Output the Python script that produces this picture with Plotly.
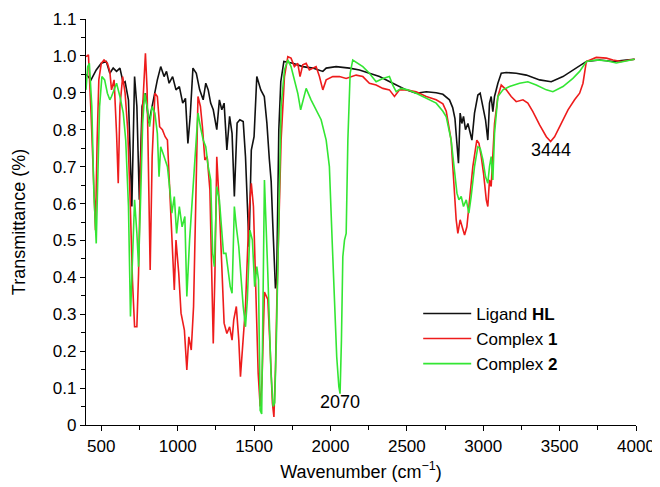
import plotly.graph_objects as go

# Ligand HL
hl_wn = [400, 433, 467, 500, 533, 556, 578, 600, 622, 644, 656, 678, 700, 718, 733, 749, 767, 789, 811, 844,
         867, 889, 911, 927, 944, 967, 989, 1011, 1033, 1051, 1067, 1082, 1100, 1122, 1144, 1167, 1184, 1200,
         1216, 1233, 1256, 1273, 1289, 1304, 1322, 1340, 1356, 1371, 1389, 1407, 1429, 1444, 1467, 1482, 1500,
         1518, 1544, 1567, 1584, 1600, 1612, 1622, 1632, 1640, 1648, 1655, 1662, 1675, 1695, 1753, 1819, 1884,
         1950, 1972, 2037, 2124, 2190, 2255, 2321, 2408, 2496, 2561, 2627, 2692, 2736, 2779, 2800, 2815, 2828,
         2838, 2849, 2860, 2871, 2884, 2900, 2915, 2926, 2943, 2965, 2980, 2998, 3015, 3030, 3041, 3052, 3063,
         3074, 3096, 3118, 3151, 3216, 3282, 3369, 3445, 3522, 3587, 3675, 3762, 3849, 3936, 3991]
hl_t = [0.95, 0.935, 0.962, 0.98, 0.985, 0.953, 0.967, 0.958, 0.967, 0.926, 0.93, 0.88, 0.592, 0.944, 0.863,
        0.61, 0.863, 0.899, 0.818, 0.89, 0.935, 0.971, 0.944, 0.958, 0.926, 0.944, 0.908, 0.917, 0.872, 0.885,
        0.763, 0.836, 0.967, 0.953, 0.908, 0.881, 0.926, 0.908, 0.872, 0.854, 0.8, 0.881, 0.854, 0.872, 0.745,
        0.836, 0.79, 0.619, 0.818, 0.827, 0.822, 0.727, 0.483, 0.745, 0.781, 0.944, 0.908, 0.89, 0.818, 0.72,
        0.66, 0.55, 0.42, 0.37, 0.39, 0.55, 0.8, 0.93, 0.985, 0.98, 0.971, 0.967, 0.958, 0.967, 0.971, 0.967,
        0.962, 0.953, 0.944, 0.926, 0.908, 0.899, 0.903, 0.9, 0.896, 0.881, 0.86, 0.83, 0.754, 0.709, 0.845,
        0.817, 0.836, 0.8, 0.817, 0.79, 0.772, 0.845, 0.894, 0.899, 0.863, 0.827, 0.772, 0.872, 0.89, 0.849,
        0.89, 0.926, 0.953, 0.955, 0.953, 0.948, 0.935, 0.93, 0.944, 0.962, 0.985, 0.989, 0.985, 0.989, 0.991]

# Complex 1
c1_wn = [400, 416, 433, 451, 462, 473, 484, 500, 518, 540, 556, 567, 584, 600, 611, 622, 640, 656, 673, 689,
         704, 718, 733, 744, 756, 771, 789, 800, 811, 820, 833, 851, 867, 882, 900, 918, 933, 949, 962, 978,
         989, 1007, 1022, 1044, 1060, 1073, 1089, 1104, 1118, 1133, 1149, 1162, 1178, 1193, 1211, 1222, 1233,
         1244, 1256, 1273, 1289, 1304, 1322, 1340, 1356, 1367, 1384, 1400, 1411, 1429, 1444, 1467, 1482, 1496,
         1511, 1527, 1540, 1552, 1568, 1590, 1606, 1620, 1630, 1640, 1650, 1662, 1677, 1699, 1721, 1742, 1764,
         1786, 1801, 1819, 1841, 1862, 1884, 1906, 1928, 1950, 1972, 1993, 2015, 2059, 2103, 2168, 2212, 2255,
         2299, 2343, 2386, 2419, 2452, 2496, 2561, 2627, 2692, 2736, 2758, 2790, 2812, 2823, 2834, 2849, 2862,
         2878, 2893, 2910, 2932, 2958, 2972, 2987, 3002, 3020, 3030, 3041, 3052, 3059, 3074, 3096, 3118, 3151,
         3183, 3216, 3260, 3292, 3325, 3369, 3413, 3441, 3467, 3511, 3555, 3598, 3631, 3653, 3675, 3740, 3806,
         3849, 3904, 3958, 3991]
c1_t = [0.998, 1.003, 0.845, 0.637, 0.528, 0.772, 0.935, 0.98, 0.989, 0.98, 0.958, 0.908, 0.935, 0.79, 0.655,
        0.863, 0.944, 0.899, 0.8, 0.61, 0.393, 0.266, 0.266, 0.411, 0.682, 0.863, 1.007, 0.908, 0.628, 0.42,
        0.727, 0.899, 0.89, 0.808, 0.8, 0.781, 0.772, 0.637, 0.501, 0.366, 0.501, 0.411, 0.303, 0.257, 0.149,
        0.239, 0.203, 0.321, 0.592, 0.89, 0.863, 0.808, 0.718, 0.727, 0.637, 0.393, 0.221, 0.411, 0.727, 0.592,
        0.411, 0.276, 0.248, 0.266, 0.23, 0.285, 0.321, 0.23, 0.131, 0.23, 0.321, 0.574, 0.655, 0.592, 0.339,
        0.14, 0.05, 0.12, 0.36, 0.34, 0.2, 0.06, 0.022, 0.15, 0.35, 0.52, 0.772, 0.944, 0.998, 0.994, 0.971,
        0.98, 0.944, 0.976, 0.98, 0.962, 0.967, 0.971, 0.944, 0.908, 0.935, 0.939, 0.944, 0.944, 0.939, 0.948,
        0.944, 0.926, 0.921, 0.912, 0.908, 0.89, 0.908, 0.908, 0.903, 0.89, 0.881, 0.87, 0.85, 0.772, 0.637,
        0.556, 0.519, 0.556, 0.537, 0.515, 0.537, 0.61, 0.7, 0.772, 0.763, 0.727, 0.682, 0.61, 0.592, 0.664,
        0.646, 0.7, 0.817, 0.89, 0.921, 0.908, 0.89, 0.876, 0.881, 0.872, 0.849, 0.813, 0.781, 0.768, 0.781,
        0.817, 0.854, 0.881, 0.899, 0.926, 0.985, 0.996, 0.994, 0.989, 0.985, 0.989, 0.991]

# Complex 2
c2_wn = [400, 411, 422, 438, 451, 467, 478, 489, 504, 522, 540, 556, 567, 584, 600, 622, 644, 660, 678, 691,
         704, 718, 733, 744, 756, 771, 784, 800, 816, 833, 851, 867, 878, 889, 904, 918, 933, 949, 962, 978,
         993, 1011, 1029, 1047, 1060, 1078, 1100, 1118, 1133, 1149, 1167, 1184, 1200, 1216, 1229, 1240, 1256,
         1273, 1289, 1300, 1316, 1333, 1344, 1356, 1371, 1384, 1400, 1416, 1429, 1444, 1456, 1473, 1489, 1504,
         1518, 1529, 1540, 1550, 1558, 1568, 1590, 1611, 1625, 1635, 1646, 1662, 1677, 1699, 1721, 1742, 1764,
         1786, 1805, 1820, 1841, 1873, 1906, 1939, 1972, 1993, 2011, 2026, 2041, 2055, 2063, 2072, 2081, 2092,
         2103, 2114, 2129, 2146, 2179, 2212, 2255, 2299, 2343, 2386, 2408, 2430, 2463, 2506, 2561, 2627, 2692,
         2736, 2758, 2790, 2812, 2828, 2841, 2856, 2871, 2889, 2906, 2921, 2943, 2965, 2980, 2998, 3015, 3030,
         3041, 3052, 3063, 3074, 3096, 3129, 3172, 3238, 3292, 3347, 3413, 3456, 3522, 3587, 3631, 3675, 3740,
         3806, 3871, 3936, 3991]
c2_t = [0.908, 0.971, 0.98, 0.863, 0.637, 0.492, 0.682, 0.863, 0.944, 0.935, 0.899, 0.881, 0.89, 0.908, 0.926,
        0.89, 0.845, 0.772, 0.592, 0.294, 0.456, 0.61, 0.519, 0.429, 0.592, 0.818, 0.899, 0.863, 0.808, 0.863,
        0.845, 0.79, 0.673, 0.754, 0.736, 0.718, 0.7, 0.637, 0.574, 0.619, 0.519, 0.592, 0.537, 0.565, 0.348,
        0.501, 0.637, 0.772, 0.845, 0.808, 0.772, 0.754, 0.7, 0.664, 0.465, 0.429, 0.646, 0.61, 0.537, 0.465,
        0.465, 0.411, 0.375, 0.357, 0.592, 0.537, 0.483, 0.393, 0.321, 0.266, 0.339, 0.528, 0.501, 0.375, 0.429,
        0.393, 0.04, 0.03, 0.35, 0.664, 0.411, 0.14, 0.05, 0.06, 0.23, 0.592, 0.863, 0.962, 0.989, 0.971, 0.935,
        0.899, 0.854, 0.88, 0.912, 0.881, 0.854, 0.827, 0.772, 0.7, 0.501, 0.321, 0.185, 0.104, 0.085, 0.23,
        0.456, 0.501, 0.519, 0.772, 0.953, 0.989, 0.98, 0.971, 0.953, 0.93, 0.939, 0.944, 0.921, 0.903, 0.912,
        0.908, 0.899, 0.885, 0.872, 0.85, 0.835, 0.772, 0.682, 0.628, 0.61, 0.619, 0.592, 0.61, 0.574, 0.619,
        0.7, 0.754, 0.75, 0.718, 0.673, 0.655, 0.7, 0.727, 0.664, 0.79, 0.89, 0.908, 0.917, 0.926, 0.93, 0.921,
        0.908, 0.903, 0.917, 0.939, 0.958, 0.985, 0.989, 0.987, 0.981, 0.987, 0.991]

y_tickvals = [0, 0.1, 0.2, 0.3, 0.4, 0.5, 0.6, 0.7, 0.8, 0.9, 1.0, 1.1]
y_ticktext = ["0", "0.1", "0.2", "0.3", "0.4", "0.5", "0.6", "0.7", "0.8", "0.9", "1.0", "1.1"]
x_tickvals = [500, 1000, 1500, 2000, 2500, 3000, 3500, 4000]

FONT = "Arial, Liberation Sans, Helvetica, sans-serif"

fig = go.Figure()
fig.add_trace(go.Scatter(x=hl_wn, y=hl_t, mode="lines", name="Ligand <b>HL</b>",
                         line=dict(color="#111111", width=1.6)))
fig.add_trace(go.Scatter(x=c1_wn, y=c1_t, mode="lines", name="Complex <b>1</b>",
                         line=dict(color="#ee1c1c", width=1.6)))
fig.add_trace(go.Scatter(x=c2_wn, y=c2_t, mode="lines", name="Complex <b>2</b>",
                         line=dict(color="#33e633", width=1.6)))

fig.add_annotation(x=2065, y=0.062, text="2070", showarrow=False,
                   font=dict(size=18, color="black", family=FONT))
fig.add_annotation(x=3441, y=0.745, text="3444", showarrow=False,
                   font=dict(size=18, color="black", family=FONT))

# the page body adds an 8 px offset, margins compensate for it
fig.update_layout(
    width=660, height=487, autosize=False,
    margin=dict(l=78, r=32, t=11, b=70),
    paper_bgcolor="white", plot_bgcolor="white",
    font=dict(family=FONT, size=17, color="black"),
    showlegend=True,
    legend=dict(x=0.604, y=0.318, xanchor="left", yanchor="top",
                bgcolor="rgba(0,0,0,0)", font=dict(size=17, family=FONT),
                itemwidth=48, tracegroupgap=0),
)
fig.update_xaxes(
    range=[400, 4000], tickvals=x_tickvals, showgrid=False, zeroline=False, automargin=False,
    showline=True, linecolor="black", linewidth=1.3,
    ticks="outside", ticklen=5, tickwidth=1.2, tickcolor="black",
    tickfont=dict(size=17, family=FONT),
    minor=dict(tickvals=[750, 1250, 1750, 2250, 2750, 3250, 3750], ticks="outside",
               ticklen=4, tickwidth=1.2, tickcolor="black"),
    title=dict(text="Wavenumber (cm<sup>\u22121</sup>)", font=dict(size=18, family=FONT), standoff=10),
)
fig.update_yaxes(
    range=[0, 1.1], tickvals=y_tickvals, ticktext=y_ticktext, showgrid=False, zeroline=False, automargin=False,
    showline=True, linecolor="black", linewidth=1.3,
    ticks="outside", ticklen=5, tickwidth=1.2, tickcolor="black",
    tickfont=dict(size=17, family=FONT),
    minor=dict(tickvals=[0.05, 0.15, 0.25, 0.35, 0.45, 0.55, 0.65, 0.75, 0.85, 0.95, 1.05],
               ticks="outside", ticklen=4, tickwidth=1.2, tickcolor="black"),
    title=dict(text="Transmittance (%)", font=dict(size=18, family=FONT), standoff=22),
)

fig.write_html("out.html")
